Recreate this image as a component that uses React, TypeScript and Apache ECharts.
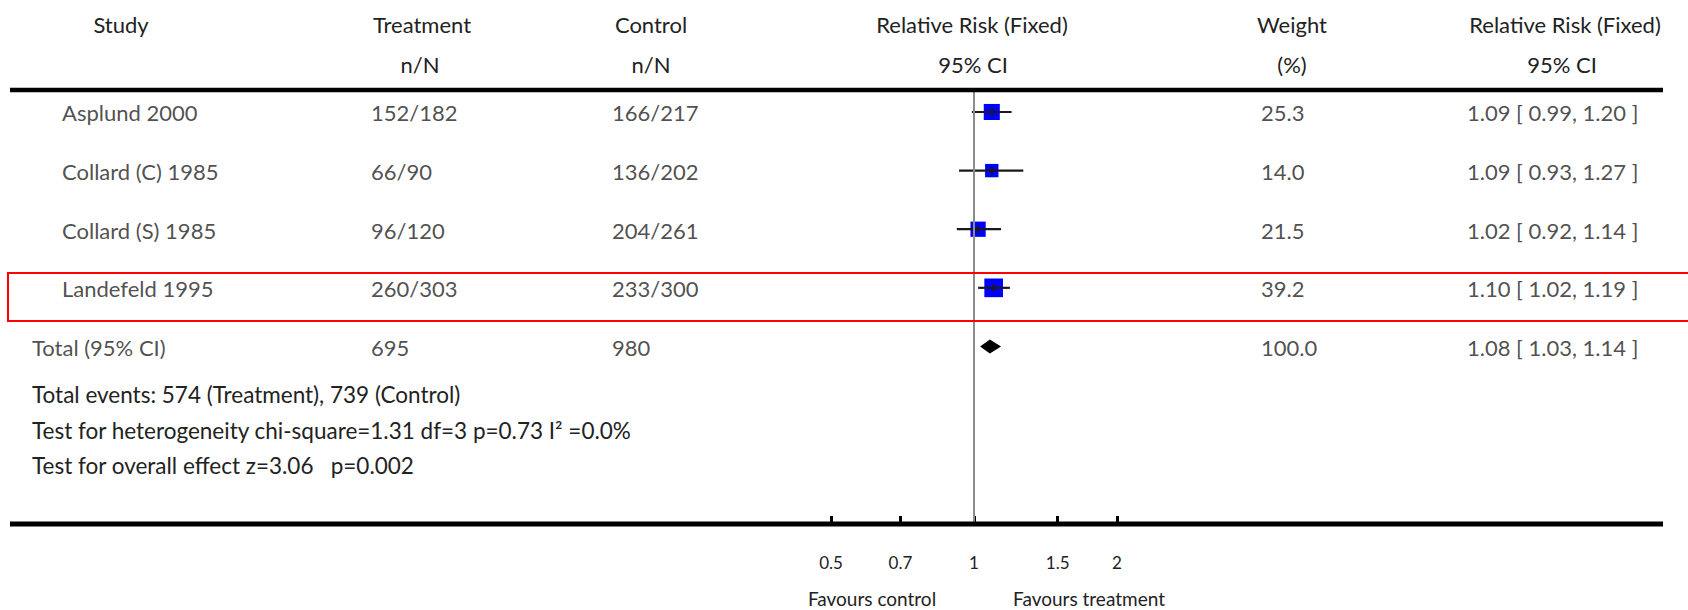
import React, { useEffect, useRef } from 'react';
import * as echarts from 'echarts';

// ---------------- data ----------------
const studies = ['Asplund 2000', 'Collard (C) 1985', 'Collard (S) 1985', 'Landefeld 1995'];
const treatmentEvents = [152, 66, 96, 260];
const treatmentTotals = [182, 90, 120, 303];
const controlEvents = [166, 136, 204, 233];
const controlTotals = [217, 202, 261, 300];
const weights = [25.3, 14.0, 21.5, 39.2];
const riskRatios = [1.09, 1.09, 1.02, 1.1];
const ciLower = [0.99, 0.93, 0.92, 1.02];
const ciUpper = [1.2, 1.27, 1.14, 1.19];

const totalLabel = 'Total (95% CI)';
const totalTreatmentN = 695;
const totalControlN = 980;
const totalWeight = 100.0;
const totalRR = 1.08;
const totalLower = 1.03;
const totalUpper = 1.14;
const totalTreatmentEvents = 574;
const totalControlEvents = 739;
const heterogeneityText = 'Test for heterogeneity chi-square=1.31 df=3 p=0.73 I\u00B2 =0.0%';
const overallEffectText = 'Test for overall effect z=3.06   p=0.002';
const xTicks = [0.5, 0.7, 1, 1.5, 2];

// ---------------- styling ----------------
const FONT = 'Lato, "Open Sans", sans-serif';
const TEXT = '#222222';
const FS = 22;
const FOOT_FS = 22.5;

const ciText = (r: number, l: number, h: number) =>
  `${r.toFixed(2)} [ ${l.toFixed(2)}, ${h.toFixed(2)} ]`;

const textColumn = (name: string, x: number, cells: string[], rows: number[]) => ({
  type: 'scatter',
  name,
  xAxisIndex: 1,
  yAxisIndex: 1,
  symbolSize: 0,
  silent: true,
  clip: false,
  z: 5,
  data: cells.map((c, k) => [x, rows[k], c]),
  label: {
    show: true,
    position: 'right',
    distance: 0,
    offset: [0, 1],
    fontSize: FS,
    fontFamily: FONT,
    color: TEXT,
    formatter: (p: any) => p.data[2],
  },
});

export default function App() {
  const ref = useRef<HTMLDivElement>(null);

  useEffect(() => {
    if (!ref.current) return;
    const chart = echarts.init(ref.current, null, { renderer: 'svg' });

    const studyRows = studies.map((_, i) => i);
    const totalRow = studies.length;
    const allRows = [...studyRows, totalRow];

    const header = (text: string, x: number, y: number) => ({
      type: 'text',
      x,
      y,
      silent: true,
      style: { text, fontSize: FS, fontFamily: FONT, fill: TEXT, align: 'center', verticalAlign: 'middle' },
    });
    const leftText = (text: string, x: number, y: number) => ({
      type: 'text',
      x,
      y,
      silent: true,
      style: { text, fontSize: FOOT_FS, fontFamily: FONT, fill: TEXT, align: 'left', verticalAlign: 'middle' },
    });

    const option: any = {
      animation: false,
      backgroundColor: '#ffffff',
      grid: [
        { left: 499, right: 239, top: 90, bottom: 86 },
        { left: 0, right: 0, top: 90, bottom: 86 },
      ],
      xAxis: [
        {
          type: 'log',
          gridIndex: 0,
          position: 'bottom',
          min: 0.1,
          max: 10,
          logBase: 10,
          axisLine: { show: false, onZero: false },
          splitLine: { show: false },
          minorTick: { show: false },
          axisTick: {
            show: true,
            inside: true,
            length: 8,
            customValues: xTicks,
            lineStyle: { color: '#000', width: 3 },
          },
          axisLabel: {
            show: true,
            customValues: xTicks,
            margin: 30,
            fontSize: 17,
            fontFamily: FONT,
            color: TEXT,
            formatter: (v: number) => String(Math.round(v * 100) / 100),
          },
        },
        {
          type: 'value',
          gridIndex: 1,
          min: 0,
          max: 1688,
          show: false,
        },
      ],
      yAxis: [
        { type: 'value', gridIndex: 0, inverse: true, min: -0.375, max: 7.029, show: false },
        { type: 'value', gridIndex: 1, inverse: true, min: -0.375, max: 7.029, show: false },
      ],
      graphic: [
        // header
        header('Study', 121, 24),
        header('Treatment', 422, 24),
        header('n/N', 420, 64),
        header('Control', 651, 24),
        header('n/N', 651, 64),
        header('Relative Risk (Fixed)', 972, 24),
        header('95% CI', 973, 64),
        header('Weight', 1292, 24),
        header('(%)', 1292, 64),
        header('Relative Risk (Fixed)', 1565, 24),
        header('95% CI', 1562, 64),
        // rules
        {
          type: 'line',
          silent: true,
          z: 10,
          shape: { x1: 10, y1: 90, x2: 1663, y2: 90 },
          style: { stroke: '#000', lineWidth: 4.5 },
        },
        {
          type: 'line',
          silent: true,
          z: 10,
          shape: { x1: 10, y1: 524, x2: 1663, y2: 524 },
          style: { stroke: '#000', lineWidth: 5 },
        },
        // highlight box
        {
          type: 'rect',
          silent: true,
          z: 10,
          shape: { x: 8, y: 273, width: 1700, height: 48 },
          style: { fill: 'none', stroke: '#ff0000', lineWidth: 2 },
        },
        // footer texts
        leftText(
          `Total events: ${totalTreatmentEvents} (Treatment), ${totalControlEvents} (Control)`,
          32,
          394
        ),
        leftText(heterogeneityText, 32, 430),
        leftText(overallEffectText, 32, 465),
        // favours labels
        {
          type: 'text',
          x: 872,
          y: 598,
          silent: true,
          style: { text: 'Favours control', fontSize: 19, fontFamily: FONT, fill: TEXT, align: 'center', verticalAlign: 'middle' },
        },
        {
          type: 'text',
          x: 1089,
          y: 598,
          silent: true,
          style: { text: 'Favours treatment', fontSize: 19, fontFamily: FONT, fill: TEXT, align: 'center', verticalAlign: 'middle' },
        },
      ],
      series: [
        // reference line at RR = 1
        {
          type: 'scatter',
          xAxisIndex: 0,
          yAxisIndex: 0,
          symbolSize: 0,
          silent: true,
          z: 1,
          data: riskRatios.map((r, i) => [r, i]),
          markLine: {
            silent: true,
            symbol: ['none', 'none'],
            label: { show: false },
            lineStyle: { color: '#8c8c8c', width: 2, type: 'solid' },
            data: [{ xAxis: 1 }],
          },
        },
        // study estimates
        {
          type: 'custom',
          xAxisIndex: 0,
          yAxisIndex: 0,
          z: 3,
          clip: false,
          silent: true,
          data: studies.map((_, i) => [ciLower[i], ciUpper[i], riskRatios[i], i, weights[i]]),
          encode: { x: [0, 1, 2], y: 3 },
          renderItem: (params: any, api: any) => {
            const row = api.value(3);
            const pl = api.coord([api.value(0), row]);
            const ph = api.coord([api.value(1), row]);
            const pe = api.coord([api.value(2), row]);
            const y = pe[1];
            const s = 5.5 + 2.1 * Math.sqrt(api.value(4));
            return {
              type: 'group',
              children: [
                {
                  type: 'rect',
                  shape: { x: pe[0] - s / 2, y: y - s / 2, width: s, height: s },
                  style: { fill: '#0000ff' },
                },
                {
                  type: 'line',
                  shape: { x1: pl[0], y1: y, x2: ph[0], y2: y },
                  style: { stroke: '#1a1a1a', lineWidth: 2.2 },
                },
                {
                  type: 'line',
                  shape: { x1: pe[0], y1: y - 4, x2: pe[0], y2: y + 4 },
                  style: { stroke: '#1a1a1a', lineWidth: 2 },
                },
              ],
            };
          },
        },
        // pooled diamond
        {
          type: 'custom',
          xAxisIndex: 0,
          yAxisIndex: 0,
          z: 3,
          clip: false,
          silent: true,
          data: [[totalLower, totalUpper, totalRR, totalRow]],
          encode: { x: [0, 1, 2], y: 3 },
          renderItem: (params: any, api: any) => {
            const row = api.value(3);
            const pl = api.coord([api.value(0), row]);
            const ph = api.coord([api.value(1), row]);
            const pe = api.coord([api.value(2), row]);
            const y = pe[1];
            const h = 7;
            return {
              type: 'polygon',
              shape: {
                points: [
                  [pl[0], y],
                  [pe[0], y - h],
                  [ph[0], y],
                  [pe[0], y + h],
                ],
              },
              style: { fill: '#000' },
            };
          },
        },
        // table columns
        textColumn('study', 62, studies, studyRows),
        textColumn('total label', 32, [totalLabel], [totalRow]),
        textColumn(
          'treatment',
          371,
          [...studies.map((_, i) => `${treatmentEvents[i]}/${treatmentTotals[i]}`), String(totalTreatmentN)],
          allRows
        ),
        textColumn(
          'control',
          612,
          [...studies.map((_, i) => `${controlEvents[i]}/${controlTotals[i]}`), String(totalControlN)],
          allRows
        ),
        textColumn('weight', 1261, [...weights.map((w) => w.toFixed(1)), totalWeight.toFixed(1)], allRows),
        textColumn(
          'ci',
          1467,
          [...studies.map((_, i) => ciText(riskRatios[i], ciLower[i], ciUpper[i])), ciText(totalRR, totalLower, totalUpper)],
          allRows
        ),
      ],
    };

    chart.setOption(option);
    return () => chart.dispose();
  }, []);

  return (
    <div
      ref={ref}
      style={{ position: 'fixed', left: 0, top: 0, width: 1688, height: 610, background: '#fff' }}
    />
  );
}
